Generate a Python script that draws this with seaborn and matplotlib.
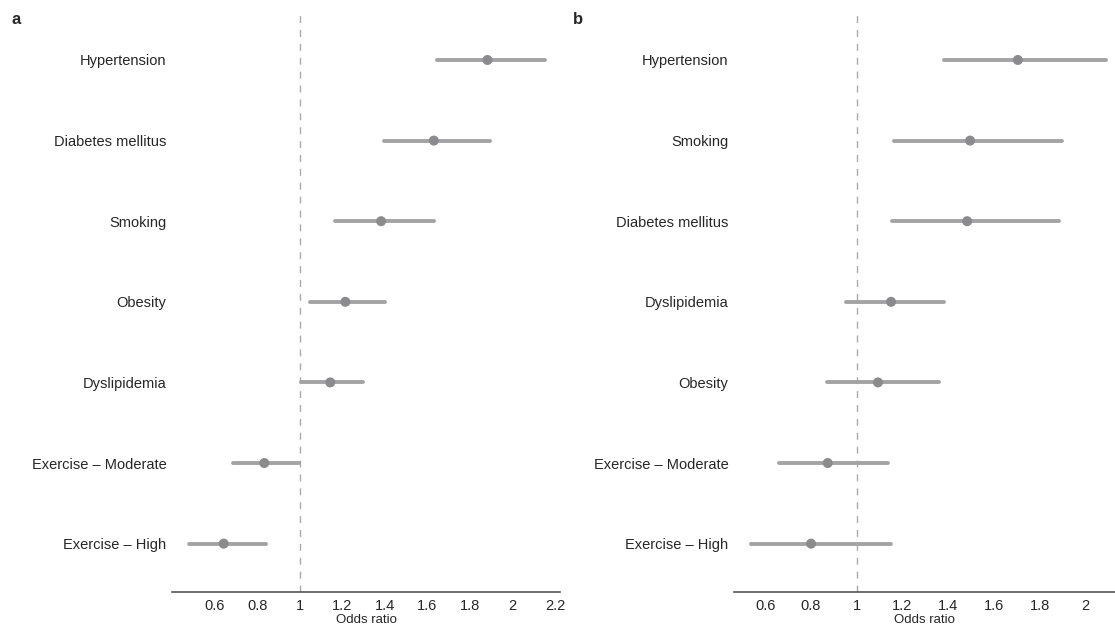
import numpy as np
import pandas as pd
import seaborn as sns
import matplotlib.pyplot as plt

# panel a
terms_a = ["Hypertension", "Diabetes mellitus", "Smoking", "Obesity",
           "Dyslipidemia", "Exercise \u2013 Moderate", "Exercise \u2013 High"]
or_a = [1.883, 1.631, 1.383, 1.215, 1.144, 0.834, 0.643]
low_a = [1.647, 1.395, 1.168, 1.050, 1.007, 0.689, 0.481]
high_a = [2.153, 1.897, 1.631, 1.399, 1.298, 0.995, 0.843]
ticks_a = [0.6, 0.8, 1, 1.2, 1.4, 1.6, 1.8, 2, 2.2]

# panel b
terms_b = ["Hypertension", "Smoking", "Diabetes mellitus", "Dyslipidemia",
           "Obesity", "Exercise \u2013 Moderate", "Exercise \u2013 High"]
or_b = [1.705, 1.496, 1.483, 1.150, 1.093, 0.873, 0.800]
low_b = [1.383, 1.163, 1.156, 0.953, 0.869, 0.660, 0.536]
high_b = [2.091, 1.897, 1.885, 1.383, 1.359, 1.136, 1.149]
ticks_b = [0.6, 0.8, 1, 1.2, 1.4, 1.6, 1.8, 2]

sns.set_style("white")
plt.rcParams['font.family'] = ['Liberation Sans', 'DejaVu Sans']

line_col = "#a3a3a5"
dot_col = "#8b8b8f"
txt_col = "#262626"

fig = plt.figure(figsize=(11.15, 6.29), dpi=100)
ax_a = fig.add_axes([172 / 1115, 37 / 629, 388 / 1115, 582 / 629])
ax_b = fig.add_axes([734 / 1115, 37 / 629, 381 / 1115, 582 / 629])


def forest(ax, terms, est, lo, hi, ticks, xlim):
    df = pd.DataFrame({"term": terms, "est": est, "lo": lo, "hi": hi})
    df["pos"] = np.arange(len(df))
    ax.axvline(1, color="#aaaaaa", lw=1, ls=(0, (5, 5)), zorder=0)
    ax.hlines(df["pos"], df["lo"], df["hi"], color=line_col, lw=2.8,
              capstyle="round", zorder=1)
    sns.scatterplot(data=df, x="est", y="pos", ax=ax, color=dot_col,
                    s=52, edgecolor="none", zorder=2)
    ax.set_yticks(df["pos"])
    ax.set_yticklabels(df["term"], fontsize=10.5, color=txt_col)
    ax.set_ylim(len(df) - 1 + 0.6, -0.62)
    ax.set_xlim(*xlim)
    ax.set_xticks(ticks)
    ax.set_xticklabels([f"{t:g}" for t in ticks], fontsize=10.5, color=txt_col)
    ax.set_xlabel("Odds ratio", fontsize=9.5, labelpad=1, color=txt_col)
    ax.set_ylabel("")
    for s in ["top", "right", "left"]:
        ax.spines[s].set_visible(False)
    ax.spines["bottom"].set_color("#555555")
    ax.spines["bottom"].set_linewidth(1.2)
    ax.tick_params(axis="y", length=0, pad=4)
    ax.tick_params(axis="x", length=2, width=0.8, color="#555555", pad=3)


forest(ax_a, terms_a, or_a, low_a, high_a, ticks_a, (0.4, 2.224))
forest(ax_b, terms_b, or_b, low_b, high_b, ticks_b, (0.463, 2.13))

fig.text(12 / 1115, 1 - 20 / 629, "a", fontsize=12, fontweight="bold", va="center")
fig.text(573 / 1115, 1 - 20 / 629, "b", fontsize=12, fontweight="bold", va="center")

fig.savefig("out.png", dpi=100)
